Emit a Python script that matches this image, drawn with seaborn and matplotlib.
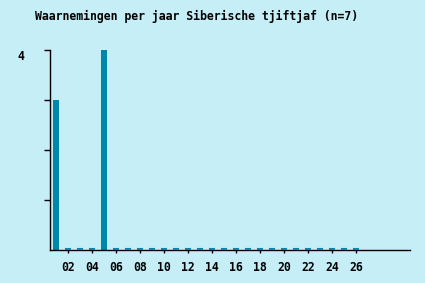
import matplotlib
matplotlib.use("Agg")
import matplotlib.pyplot as plt
import seaborn as sns
import pandas as pd
import numpy as np

years = list(range(1, 27))
counts = [3, 0, 0, 0, 4] + [0] * 21
tick_years = list(range(2, 27, 2))
tick_labels = [f"{y:02d}" for y in tick_years]
title = "Waarnemingen per jaar Siberische tjiftjaf (n=7)"

BG = "#C6EEF7"
BAR = "#0088AA"

sns.set_theme(style="white")
plt.rcParams['font.family'] = ['DejaVu Sans Mono']
plt.rcParams['font.weight'] = 'bold'
plt.rcParams['text.color'] = 'black'
plt.rcParams['xtick.color'] = 'black'
plt.rcParams['ytick.color'] = 'black'

fig = plt.figure(figsize=(4.25, 2.83), dpi=100, facecolor=BG)
ax = fig.add_axes([50/425, 33/283, 360/425, 200/283])
ax.set_facecolor(BG)

df = pd.DataFrame({"year": years, "count": counts})
sns.barplot(data=df, x="year", y="count", color=BAR, width=0.42,
            saturation=1, native_scale=True, ax=ax, edgecolor="none")
zero = df[df["count"] == 0]
ax.scatter(zero["year"], np.zeros(len(zero)) + 0.025, marker="_", s=13,
           color=BAR, linewidths=1.5, zorder=3, clip_on=False)

ax.set_xlim(0.5, 30.5)
ax.set_ylim(0, 4)
ax.set_xticks(tick_years)
ax.set_xticklabels(tick_labels, fontsize=8.3, fontweight="bold")
ax.set_yticks([1, 2, 3, 4])
ax.set_yticklabels(["", "", "", "4"], fontsize=8.3, fontweight="bold")
ax.set_xlabel("")
ax.set_ylabel("")
for s in ["top", "right"]:
    ax.spines[s].set_visible(False)
for s in ["left", "bottom"]:
    ax.spines[s].set_color("black")
    ax.spines[s].set_linewidth(1)
ax.tick_params(axis="y", direction="out", length=4, width=1, color="black",
               pad=14.5, left=True, labelcolor="black")
ax.tick_params(axis="x", direction="out", length=2, width=1, color="black",
               pad=6, bottom=True, labelcolor="black")
for lbl in ax.get_yticklabels():
    lbl.set_verticalalignment("top")

fig.text(35/425, 1 - 16/283, title, fontsize=8.3, fontweight="bold",
         ha="left", va="center", color="black")

fig.savefig("out.png", dpi=100, facecolor=BG)
